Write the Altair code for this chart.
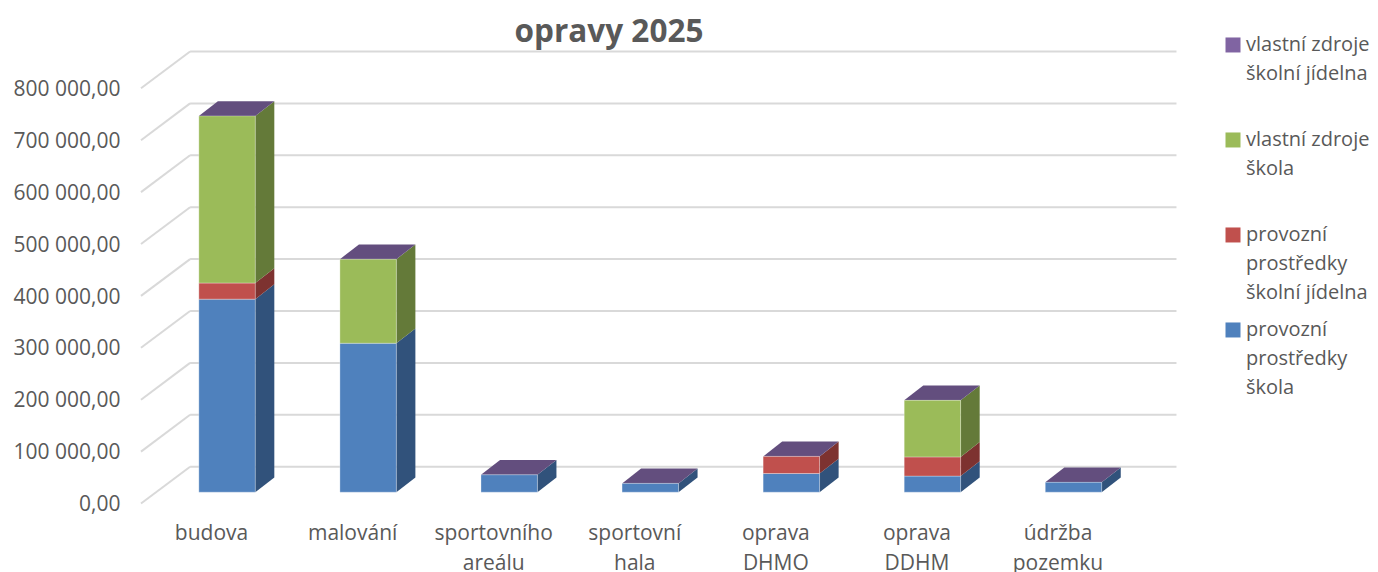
import json
import altair as alt
import pandas as pd

# ---- data ----
categories = ["budova", "malování", "sportovního|areálu", "sportovní|hala",
              "oprava|DHMO", "oprava|DDHM", "údržba|pozemku"]
series_names = ["provozní|prostředky|škola", "provozní|prostředky|školní jídelna",
                "vlastní zdroje|škola", "vlastní zdroje|školní jídelna"]
provozni_skola = [372000, 287000, 33500, 17000, 36000, 31000, 19000]
provozni_jidelna = [31000, 0, 0, 0, 33000, 37000, 0]
vlastni_skola = [322000, 162000, 0, 0, 0, 109000, 0]
vlastni_jidelna = [0, 0, 0, 0, 0, 0, 0]
y_ticks = [0, 100000, 200000, 300000, 400000, 500000, 600000, 700000, 800000]

# ---- colours ----
front_colors = ["#4F81BD", "#C0504D", "#9BBB59", "#8064A2"]
side_colors = ["#31527B", "#7D3230", "#647A39", "#634E7E"]
top_color = "#634E7E"
grid_color = "#D9D9D9"
text_color = "#595959"
FONT = "Open Sans"

# ---- geometry of the pseudo 3D box, in scale units ----
BAR_HALF = 0.2
BAR_DX = 0.135
BAR_DY = 28500
GRID_X_FRONT = -0.61
GRID_X_BACK = -0.262
GRID_X_END = 6.73
GRID_Y_FRONT = -21800
GRID_Y_BACK = 49160
X_DOMAIN = [-0.688, 6.755]
Y_DOMAIN = [-34300, 863580]

all_values = [provozni_skola, provozni_jidelna, vlastni_skola, vlastni_jidelna]
front, side, top = [], [], []
for i, cat in enumerate(categories):
    base = 0
    for s, name in enumerate(series_names):
        v = all_values[s][i]
        if v > 0:
            l, r = i - BAR_HALF, i + BAR_HALF
            front.append(dict(name=name, l=l, r=r, y0=base, y1=base + v))
            for k in (0, 1):
                side.append(dict(id=f"{i}-{s}", shade=name, x=r + k * BAR_DX,
                                 y0=base + k * BAR_DY, y1=base + v + k * BAR_DY))
            base += v
    for k in (0, 1):
        top.append(dict(id=i, y=base + k * BAR_DY,
                        l=i - BAR_HALF + k * BAR_DX, r=i + BAR_HALF + k * BAR_DX))

grid_back = pd.DataFrame([dict(a=GRID_X_BACK, b=GRID_X_END, y=t + GRID_Y_BACK) for t in y_ticks])
grid_side = pd.DataFrame([dict(a=GRID_X_FRONT, b=GRID_X_BACK,
                               y=t + GRID_Y_FRONT, y2=t + GRID_Y_BACK) for t in y_ticks])

x_scale = alt.Scale(domain=X_DOMAIN, nice=False, zero=False)
y_scale = alt.Scale(domain=Y_DOMAIN, nice=False, zero=False)

x_axis = alt.Axis(
    title=None, values=list(range(len(categories))), domain=False, ticks=False, grid=False,
    labelExpr=f"split({json.dumps(categories, ensure_ascii=False)}[datum.value], '|')",
    labelFont=FONT, labelFontSize=21, labelColor=text_color, labelLineHeight=30,
    labelOffset=-16, labelPadding=12, labelOverlap=False, labelFlush=False, labelBound=False,
    labelBaseline="top", labelAngle=0,
)
y_axis = alt.Axis(
    title=None, values=y_ticks, domain=False, ticks=False, grid=False,
    labelExpr="datum.value ? format(datum.value / 1000, 'd') + ' 000,00' : '0,00'",
    labelFont=FONT, labelFontSize=21, labelColor=text_color,
    labelOffset=12.5, labelPadding=10, labelOverlap=False, labelFlush=False, labelBound=False,
)

back_lines = alt.Chart(grid_back).mark_rule(color=grid_color, strokeWidth=2).encode(
    x=alt.X("a:Q", scale=x_scale, axis=x_axis), x2="b:Q",
    y=alt.Y("y:Q", scale=y_scale, axis=y_axis),
)
side_lines = alt.Chart(grid_side).mark_rule(color=grid_color, strokeWidth=2).encode(
    x=alt.X("a:Q", scale=x_scale), x2="b:Q",
    y=alt.Y("y:Q", scale=y_scale), y2="y2:Q",
)
sides = alt.Chart(pd.DataFrame(side)).mark_area(opacity=1).encode(
    x=alt.X("x:Q", scale=x_scale), y=alt.Y("y0:Q", scale=y_scale), y2="y1:Q",
    detail="id:N",
    color=alt.Color("shade:N", scale=alt.Scale(domain=series_names, range=side_colors), legend=None),
)
tops = alt.Chart(pd.DataFrame(top)).mark_area(orient="horizontal", color=top_color, opacity=1).encode(
    y=alt.Y("y:Q", scale=y_scale), x=alt.X("l:Q", scale=x_scale), x2="r:Q", detail="id:N",
)
fronts = alt.Chart(pd.DataFrame(front)).mark_rect(strokeWidth=1, stroke="#FFFFFF", strokeOpacity=0.3).encode(
    x=alt.X("l:Q", scale=x_scale), x2="r:Q",
    y=alt.Y("y0:Q", scale=y_scale), y2="y1:Q",
    color=alt.Color(
        "name:N",
        scale=alt.Scale(domain=series_names[::-1], range=front_colors[::-1]),
        legend=alt.Legend(
            title=None, orient="none", legendX=1093, legendY=-19, columns=1,
            symbolType="M-1,0.33H1V2.33H-1Z", symbolSize=225, symbolStrokeWidth=0, symbolOpacity=1,
            labelFont=FONT, labelFontSize=20, labelColor=text_color, labelLimit=300,
            labelExpr="split(datum.label, '|')", labelBaseline="top",
            gridAlign="all", rowPadding=7, labelOffset=3,
        ),
    ),
)

chart = (
    alt.layer(back_lines, side_lines, sides, tops, fronts)
    .resolve_scale(color="independent")
    .properties(
        width=1050, height=466,
        padding={"left": 122, "right": 190, "top": 36, "bottom": 62},
        autosize=alt.AutoSizeParams(type="none"),
        title=alt.TitleParams(
            text="opravy 2025", font=FONT, fontSize=31.5, fontWeight="bold", color=text_color,
            anchor="middle", dx=-46, dy=26, offset=3,
        ),
        config=alt.Config(
            view=alt.ViewConfig(stroke=None),
            style={"guide-label": {"lineHeight": 29}},
        ),
    )
)

chart.save("out.html", embed_options={"renderer": "svg", "actions": False})
